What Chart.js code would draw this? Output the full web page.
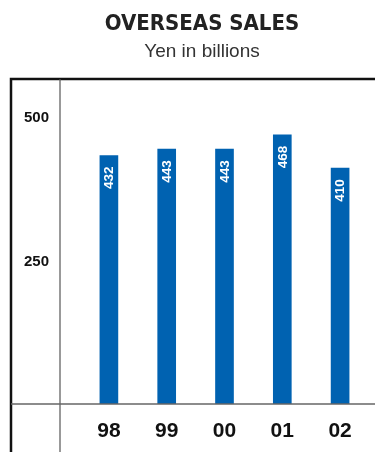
<!DOCTYPE html>
<html lang="en">
<head>
    <meta charset="UTF-8">
    <meta name="viewport" content="width=device-width, initial-scale=1.0">
    <title>Overseas Sales</title>
    <style>
        html, body {
            margin: 0;
            padding: 0;
            background-color: #fff;
        }

        .chart-box {
            width: 375px;
            height: 452px;
        }
    </style>
    <script src="https://cdn.jsdelivr.net/npm/chart.js"></script>
</head>
<body>

    <div class="chart-box">
        <canvas id="salesChart"></canvas>
    </div>

    <script>
        var years = ['98', '99', '00', '01', '02'];
        var sales = [432, 443, 443, 468, 410];
        var yTicks = [250, 500];
        var chartTitle = 'OVERSEAS SALES';
        var chartSubtitle = 'Yen in billions';

        // heading sits a little right of the canvas middle, over the plot panel
        var headingPlugin = {
            id: 'heading',
            afterDraw: function (chart) {
                var ctx = chart.ctx;
                var cx = 202;
                ctx.save();
                ctx.textAlign = 'center';
                ctx.textBaseline = 'alphabetic';
                ctx.fillStyle = '#222';
                ctx.font = 'bold 22px "DejaVu Sans Condensed", "DejaVu Sans", sans-serif';
                ctx.fillText(chartTitle, cx, 30);
                ctx.fillStyle = '#333';
                ctx.font = '19px "Liberation Sans", Arial, sans-serif';
                ctx.fillText(chartSubtitle, cx, 57);
                ctx.restore();
            }
        };

        // frame: thick outer border, thin divider next to the axis labels, baseline
        var framePlugin = {
            id: 'frame',
            afterDraw: function (chart) {
                var ctx = chart.ctx;
                var area = chart.chartArea;
                var outerX = area.left - 69;
                var innerX = area.left - 20;
                ctx.save();
                ctx.strokeStyle = '#111';
                ctx.lineWidth = 2.5;
                ctx.beginPath();
                ctx.moveTo(outerX, chart.height);
                ctx.lineTo(outerX, area.top);
                ctx.lineTo(chart.width, area.top);
                ctx.stroke();

                ctx.strokeStyle = '#555';
                ctx.lineWidth = 1.2;
                ctx.beginPath();
                ctx.moveTo(innerX, area.top);
                ctx.lineTo(innerX, chart.height);
                ctx.stroke();

                ctx.strokeStyle = '#666';
                ctx.lineWidth = 1.5;
                ctx.beginPath();
                ctx.moveTo(outerX, area.bottom);
                ctx.lineTo(chart.width, area.bottom);
                ctx.stroke();
                ctx.restore();
            }
        };

        // values written upwards inside the top of each bar
        var barValuePlugin = {
            id: 'barValues',
            afterDatasetsDraw: function (chart) {
                var ctx = chart.ctx;
                var meta = chart.getDatasetMeta(0);
                ctx.save();
                ctx.fillStyle = '#fff';
                ctx.font = 'bold 13.5px "Liberation Sans", Arial, sans-serif';
                ctx.textAlign = 'right';
                ctx.textBaseline = 'middle';
                meta.data.forEach(function (bar, i) {
                    ctx.save();
                    ctx.translate(bar.x + 0.5, bar.y + 11);
                    ctx.rotate(-Math.PI / 2);
                    ctx.fillText(String(sales[i]), 0, 0);
                    ctx.restore();
                });
                ctx.restore();
            }
        };

        var ctx = document.getElementById('salesChart').getContext('2d');
        var chart = new Chart(ctx, {
            type: 'bar',
            data: {
                labels: years,
                datasets: [{
                    label: 'Overseas sales',
                    data: sales,
                    backgroundColor: '#0062b1',
                    borderWidth: 0,
                    barThickness: 18
                }]
            },
            options: {
                responsive: true,
                maintainAspectRatio: false,
                animation: false,
                layout: {
                    padding: { left: 0, right: 6, top: 79, bottom: 0 }
                },
                plugins: {
                    legend: { display: false },
                    tooltip: { enabled: false },
                    title: { display: false }
                },
                scales: {
                    x: {
                        grid: { display: false, drawTicks: false },
                        border: { display: false },
                        ticks: {
                            color: '#111',
                            padding: 15,
                            font: { family: '"Liberation Sans", Arial, sans-serif', size: 21, weight: 'bold' }
                        },
                        afterFit: function (scale) {
                            scale.height = 48;
                        }
                    },
                    y: {
                        min: 0,
                        max: 565,
                        grid: { display: false, drawTicks: false },
                        border: { display: false },
                        ticks: {
                            color: '#111',
                            padding: 31,
                            labelOffset: 1.5,
                            font: { family: '"Liberation Sans", Arial, sans-serif', size: 15, weight: 'bold' }
                        },
                        afterBuildTicks: function (scale) {
                            scale.ticks = yTicks.map(function (v) { return { value: v }; });
                        },
                        afterFit: function (scale) {
                            scale.width = 80;
                        }
                    }
                }
            },
            plugins: [headingPlugin, framePlugin, barValuePlugin]
        });
    </script>

</body>
</html>
